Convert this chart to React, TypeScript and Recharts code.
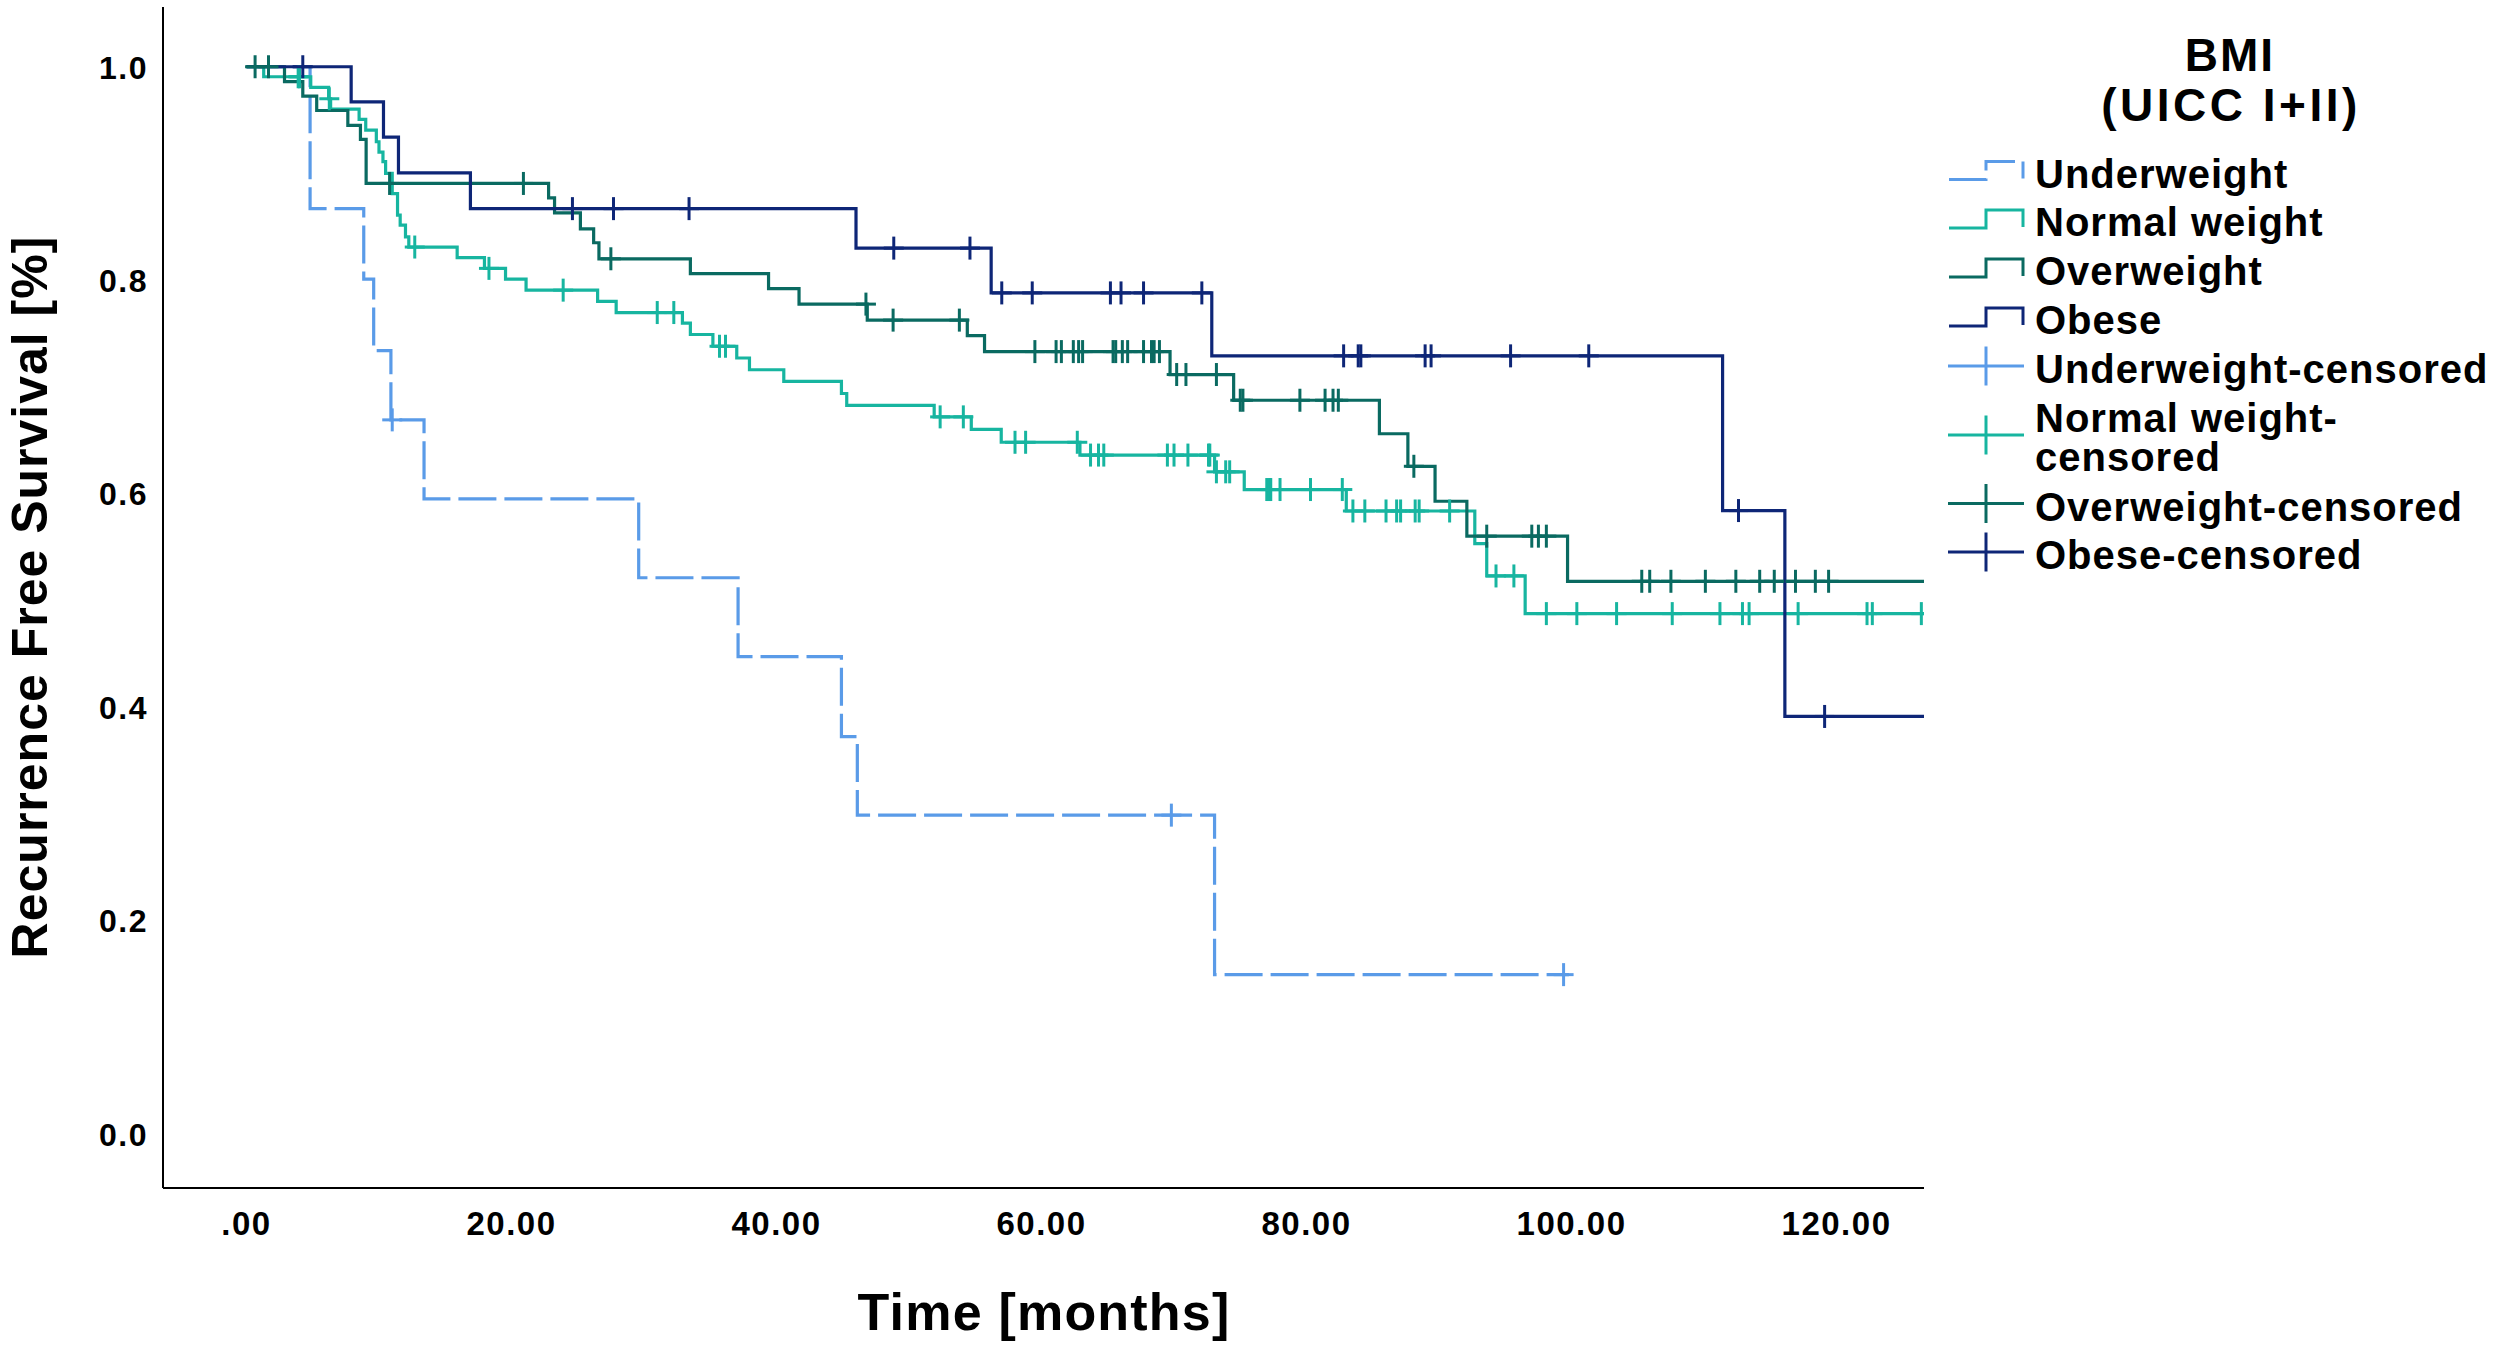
import React from "react";
import { ComposedChart, Legend, Line, Scatter, XAxis, YAxis } from "recharts";

type Step = [number, number];

const groups = ["Underweight", "Normal weight", "Overweight", "Obese"];
const groupColors = ["#5a9be8", "#17b5a0", "#0a6a61", "#0e2677"];

// Kaplan-Meier steps: [months, survival after this time]
const underweightSteps: Step[] = [
    [0, 1], [4.8, 0.867], [8.85, 0.801], [9.6, 0.734], [10.9, 0.669], [13.4, 0.595], [29.6, 0.521],
    [37.1, 0.447], [44.9, 0.372], [46.1, 0.2985], [73.06, 0.149], [99.8, 0.149],
];
const normalSteps: Step[] = [
    [0, 1], [1.3, 0.9906], [4.85, 0.9807], [6.2, 0.97], [6.35, 0.9603], [8.5, 0.9506], [9.0, 0.9406],
    [9.8, 0.9297], [10.0, 0.92], [10.3, 0.911], [10.5, 0.9], [11.0, 0.881], [11.4, 0.861], [11.6, 0.8515],
    [12.0, 0.8406], [12.25, 0.831], [15.9, 0.821], [17.96, 0.811], [19.55, 0.801], [21.1, 0.7906],
    [26.5, 0.78], [27.9, 0.7696], [32.9, 0.7596], [33.5, 0.749], [35.2, 0.738], [37.0, 0.727],
    [37.96, 0.716], [40.55, 0.705], [44.9, 0.6937], [45.3, 0.6825], [51.9, 0.6718], [54.7, 0.66],
    [56.96, 0.648], [62.9, 0.636], [73.06, 0.6203], [75.3, 0.6037], [83.0, 0.5836], [92.7, 0.553],
    [93.6, 0.5227], [96.5, 0.4874], [126.6, 0.4874],
];
const overweightSteps: Step[] = [
    [0, 1], [2.87, 0.986], [4.25, 0.9725], [5.3, 0.959], [7.65, 0.945], [8.6, 0.932], [9.03, 0.8906],
    [22.8, 0.877], [23.25, 0.863], [25.2, 0.848], [26.2, 0.835], [26.6, 0.82], [33.5, 0.806],
    [39.4, 0.792], [41.7, 0.7775], [46.85, 0.7625], [54.4, 0.748], [55.7, 0.733], [69.7, 0.7115],
    [74.5, 0.6874], [85.5, 0.656], [87.65, 0.6255], [89.7, 0.5927], [92.1, 0.56], [99.7, 0.5177],
    [126.6, 0.5177],
];
const obeseSteps: Step[] = [
    [0, 1], [7.9, 0.967], [10.34, 0.934], [11.47, 0.9006], [16.9, 0.867], [46.0, 0.83], [56.2, 0.788],
    [72.85, 0.729], [111.4, 0.584], [116.1, 0.391], [126.6, 0.391],
];

// censoring times (months)
const underweightCensored = [11.0, 69.8, 99.4];
const normalCensored = [
    3.9, 4.0, 6.25, 12.7, 18.3, 23.9, 31.0, 32.25, 35.7, 36.15, 52.35, 54.1, 58.0, 58.8, 62.7, 63.7, 64.3,
    64.7, 69.5, 70.0, 71.05, 72.6, 72.7, 73.2, 73.9, 74.2, 77.0, 77.2, 77.3, 78.0, 80.3, 82.7, 83.5, 84.4,
    86.0, 86.8, 87.1, 88.2, 88.5, 90.8, 94.3, 95.65, 98.1, 100.4, 103.4, 107.6, 111.2, 112.9, 113.4, 117.1,
    122.3, 122.7, 126.4,
];
const overweightCensored = [
    0.65, 1.66, 10.8, 20.9, 27.5, 46.75, 48.8, 53.8, 59.5, 61.1, 61.5, 62.4, 62.8, 63.1, 65.4, 65.6, 66.1,
    66.5, 67.7, 68.3, 68.5, 68.9, 70.2, 70.9, 73.2, 75.0, 75.2, 79.5, 81.4, 82.0, 82.4, 88.1, 93.6, 97.0,
    97.5, 98.1, 105.3, 105.9, 107.5, 110.1, 112.4, 114.2, 115.3, 116.9, 118.4, 119.4,
];
const obeseCensored = [
    4.25, 24.6, 27.7, 33.4, 48.85, 54.6, 57.0, 59.3, 65.2, 66.0, 67.7, 72.1, 82.8, 83.9, 84.1, 88.95, 89.4,
    95.4, 101.3, 112.6, 119.1,
];

const xTicks = [0, 20, 40, 60, 80, 100, 120];
const yTicks = [0, 0.2, 0.4, 0.6, 0.8, 1.0];
const legendLabels = [
    ["Underweight"],
    ["Normal weight"],
    ["Overweight"],
    ["Obese"],
    ["Underweight-censored"],
    ["Normal weight-", "censored"],
    ["Overweight-censored"],
    ["Obese-censored"],
];

const FONT = "Arial, 'Liberation Sans', Helvetica, sans-serif";

const allSteps = [underweightSteps, normalSteps, overweightSteps, obeseSteps];
const allCensored = [underweightCensored, normalCensored, overweightCensored, obeseCensored];

const toPoints = (steps: Step[]) => steps.map(([t, s]) => ({ t, s }));

// survival level of the curve at a censoring time
const levelAt = (steps: Step[], t: number) => {
    let s = 1;
    for (const [st, sv] of steps) {
        if (st <= t) s = sv;
    }
    return s;
};

const censorPoints = (steps: Step[], times: number[]) => times.map((t) => ({ t, s: levelAt(steps, t) }));

const CensorMark = ({ cx, cy, color }: { cx?: number; cy?: number; color: string }) => {
    if (cx == null || cy == null) return null;
    return (
        <g stroke={color} strokeWidth={3}>
            <line x1={cx - 10} x2={cx + 10} y1={cy} y2={cy} />
            <line x1={cx} x2={cx} y1={cy - 11.5} y2={cy + 11.5} />
        </g>
    );
};

const XTick = ({ x, y, payload }: any) => (
    <text x={x} y={1235} textAnchor="middle" fontFamily={FONT} fontWeight="bold" fontSize={33} letterSpacing={1.5} fill="#000">
        {payload.value === 0 ? ".00" : Number(payload.value).toFixed(2)}
    </text>
);

const YTick = ({ y, payload }: any) => (
    <text x={148} y={y + 12} textAnchor="end" fontFamily={FONT} fontWeight="bold" fontSize={32} letterSpacing={1.5} fill="#000">
        {Number(payload.value).toFixed(1)}
    </text>
);

const LegendBox = () => {
    const ox = 1930;
    const rowBase = [187.5, 236, 285, 334, 383, 432, 520.5, 569];
    return (
        <svg width={570} height={620} style={{ display: "block" }}>
            <text x={2230 - ox} y={71} textAnchor="middle" fontFamily={FONT} fontWeight="bold" fontSize={46} letterSpacing={2}>
                BMI
            </text>
            <text x={2231 - ox} y={121} textAnchor="middle" fontFamily={FONT} fontWeight="bold" fontSize={46} letterSpacing={3.5}>
                (UICC I+II)
            </text>
            {legendLabels.map((lines, i) => {
                const base = rowBase[i];
                const color = groupColors[i % 4];
                const isCensor = i >= 4;
                const dash = i === 0 ? "38 8" : undefined;
                let icon;
                if (isCensor) {
                    const cy = lines.length > 1 ? base + 3 : base - 17;
                    icon = (
                        <g stroke={color} strokeWidth={3}>
                            <line x1={1948 - ox} x2={2024 - ox} y1={cy} y2={cy} />
                            <line x1={1986 - ox} x2={1986 - ox} y1={cy - 19.5} y2={cy + 19.5} />
                        </g>
                    );
                } else {
                    const lo = base - 8;
                    const hi = base - 26;
                    icon = (
                        <polyline
                            points={`${1949 - ox},${lo} ${1986 - ox},${lo} ${1986 - ox},${hi} ${2023 - ox},${hi} ${2023 - ox},${hi + 17}`}
                            fill="none"
                            stroke={color}
                            strokeWidth={3}
                            strokeDasharray={dash}
                        />
                    );
                }
                return (
                    <g key={i}>
                        {icon}
                        {lines.map((ln, k) => (
                            <text
                                key={k}
                                x={2035 - ox}
                                y={base + k * 39}
                                fontFamily={FONT}
                                fontWeight="bold"
                                fontSize={40}
                                letterSpacing={1}
                                fill="#000"
                            >
                                {ln}
                            </text>
                        ))}
                    </g>
                );
            })}
        </svg>
    );
};

const App = () => {
    return (
        <div style={{ position: "absolute", left: 0, top: 0, width: 2500, height: 1347, background: "#fff" }}>
            <ComposedChart width={2500} height={1347} margin={{ top: 7, right: 576, bottom: 0, left: 0 }}>
                <XAxis
                    type="number"
                    dataKey="t"
                    domain={[-6.3, 126.6]}
                    allowDataOverflow
                    ticks={xTicks}
                    tick={<XTick />}
                    tickLine={false}
                    axisLine={{ stroke: "#000", strokeWidth: 2 }}
                    height={159}
                    label={() => (
                        <text x={1044} y={1330} textAnchor="middle" fontFamily={FONT} fontWeight="bold" fontSize={52} letterSpacing={1.2}>
                            Time [months]
                        </text>
                    )}
                />
                <YAxis
                    type="number"
                    dataKey="s"
                    domain={[-0.051, 1.056]}
                    allowDataOverflow
                    ticks={yTicks}
                    tick={<YTick />}
                    tickLine={false}
                    axisLine={{ stroke: "#000", strokeWidth: 2 }}
                    width={163}
                    label={() => (
                        <text
                            x={47}
                            y={597}
                            transform="rotate(-90 47 597)"
                            textAnchor="middle"
                            fontFamily={FONT}
                            fontWeight="bold"
                            fontSize={50}
                            letterSpacing={1}
                        >
                            Recurrence Free Survival [%]
                        </text>
                    )}
                />
                <Legend
                    layout="horizontal"
                    align="center"
                    verticalAlign="middle"
                    wrapperStyle={{ position: "absolute", left: 1930, top: 0, width: 570, height: 620 }}
                    content={() => <LegendBox />}
                />
                {allSteps.map((steps, i) => (
                    <Line
                        key={groups[i]}
                        name={groups[i]}
                        data={toPoints(steps)}
                        dataKey="s"
                        type="stepAfter"
                        stroke={groupColors[i]}
                        strokeWidth={3.2}
                        strokeDasharray={i === 0 ? "38 8" : undefined}
                        dot={false}
                        activeDot={false}
                        isAnimationActive={false}
                    />
                ))}
                {allCensored.map((times, i) => (
                    <Scatter
                        key={groups[i] + "-censored"}
                        name={groups[i] + "-censored"}
                        data={censorPoints(allSteps[i], times)}
                        dataKey="s"
                        shape={(p: any) => <CensorMark cx={p.cx} cy={p.cy} color={groupColors[i]} />}
                        isAnimationActive={false}
                    />
                ))}
            </ComposedChart>
        </div>
    );
};

export default App;
